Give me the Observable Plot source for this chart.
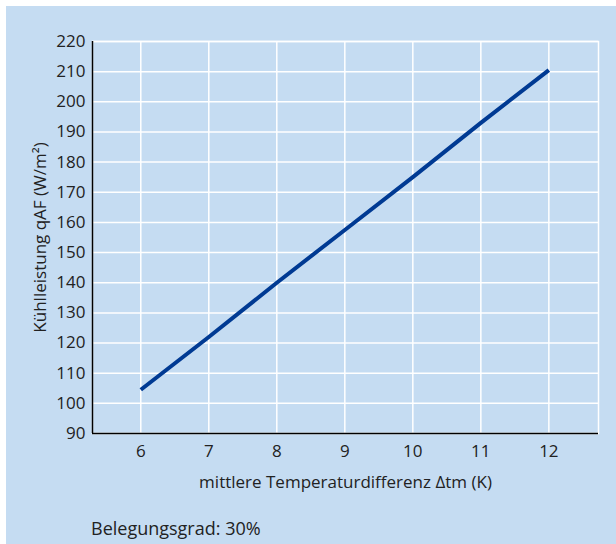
<!DOCTYPE html>
<html><head><meta charset="utf-8">
<script src="https://cdn.jsdelivr.net/npm/d3@7"></script>
<script src="https://cdn.jsdelivr.net/npm/@observablehq/plot@0.6"></script>
<style>
body{margin:0;background:#fff;}
#panel{position:absolute;left:6px;top:6px;width:610px;height:538px;background:#c5dcf2;font-family:"Open Sans",sans-serif;color:#222;}
#caption{position:absolute;left:85px;top:510px;font-size:18px;line-height:24px;color:#222;}
svg{display:block;}
</style>
</head><body>
<div id="panel"><div id="chart"></div><div id="caption">Belegungsgrad: 30%</div></div>
<script>
const xValues = [6, 7, 8, 9, 10, 11, 12];
const yValues = [104.5, 122, 140, 157.5, 175, 193, 210.5];
const xTicks = [6, 7, 8, 9, 10, 11, 12];
const yTicks = [90, 100, 110, 120, 130, 140, 150, 160, 170, 180, 190, 200, 210, 220];
const xLabel = "mittlere Temperaturdifferenz Δtm (K)";
const yLabel = "Kühlleistung qAF (W/m²)";

const data = xValues.map((x, i) => ({x, y: yValues[i]}));
const xDomain = [5.29, 12.73];
const yDomain = [90, 220];

const chart = Plot.plot({
  width: 610,
  height: 494,
  marginLeft: 86,
  marginTop: 35,
  marginRight: 18,
  marginBottom: 67,
  style: {background: "transparent", fontFamily: "'Open Sans', sans-serif", fontSize: "17px", color: "#222"},
  x: {domain: xDomain},
  y: {domain: yDomain},
  marks: [
    Plot.gridX(xTicks, {stroke: "white", strokeOpacity: 1, strokeWidth: 1.5}),
    Plot.gridY(yTicks, {stroke: "white", strokeOpacity: 1, strokeWidth: 1.5}),
    Plot.frame({stroke: "white", strokeWidth: 1.5}),
    Plot.axisX(xTicks, {tickSize: 0, tickPadding: 11, label: xLabel, labelAnchor: "center", labelOffset: 54, labelArrow: "none", fill: "#222", fontSize: 17}),
    Plot.axisY(yTicks, {tickSize: 0, tickPadding: 7, label: yLabel, labelAnchor: "center", labelOffset: 59, labelArrow: "none", fill: "#222", fontSize: 17}),
    Plot.ruleY([yDomain[0]], {stroke: "black", strokeWidth: 1.5}),
    Plot.ruleX([xDomain[0]], {stroke: "black", strokeWidth: 1.5}),
    Plot.line(data, {x: "x", y: "y", stroke: "#003a93", strokeWidth: 4, strokeLinecap: "butt"})
  ]
});
document.getElementById("chart").appendChild(chart);
</script>
</body></html>
